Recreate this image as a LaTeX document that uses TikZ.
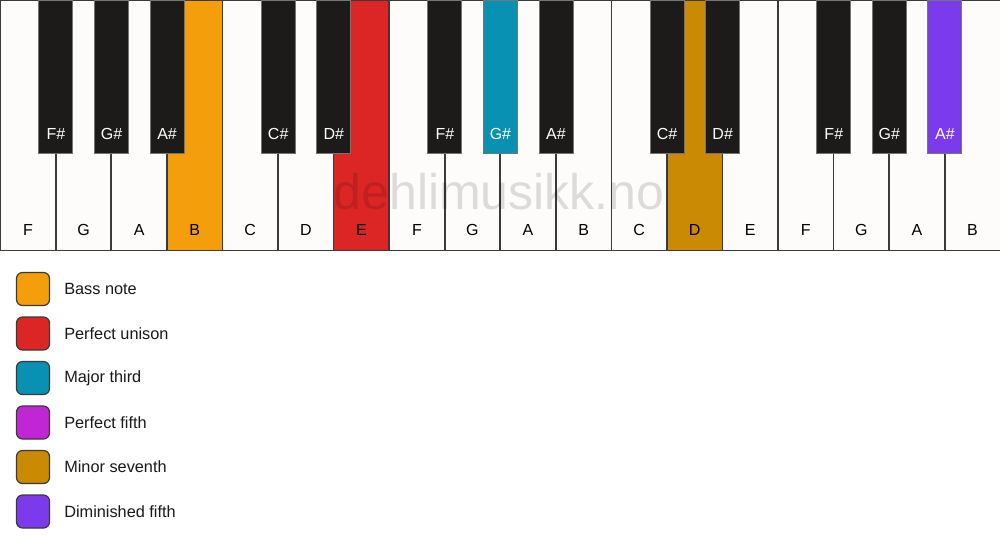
\documentclass[tikz,border=0pt]{standalone}
\usepackage{fontspec}
\setmainfont{Liberation Sans}
\usetikzlibrary{positioning}

\definecolor{ivory}{HTML}{FDFCFA}
\definecolor{keyblack}{HTML}{1C1B1A}
\definecolor{keyline}{HTML}{3A3A3A}
\definecolor{bassnote}{HTML}{F59E0B}
\definecolor{unison}{HTML}{DC2626}
\definecolor{majthird}{HTML}{0891B2}
\definecolor{perffifth}{HTML}{C026D3}
\definecolor{minseventh}{HTML}{CA8A04}
\definecolor{dimfifth}{HTML}{7C3AED}

\tikzset{
  whitekey/.style={anchor=north west, inner sep=0pt,
    minimum width=55.56pt, minimum height=250pt},
  keyedge/.style={draw=keyline, line width=1.3pt},
  blackkey/.style={draw=keyline!70, line width=1pt, anchor=north, inner sep=0pt,
    minimum width=34pt, minimum height=153pt},
  keylabel/.style={font=\fontsize{16pt}{16pt}\selectfont, inner sep=0pt},
  legendbox/.style={draw=keyline, line width=1.2pt, rounded corners=6pt,
    minimum width=33pt, minimum height=33pt, inner sep=0pt},
  legendtext/.style={font=\fontsize{16.3pt}{16.3pt}\selectfont, anchor=west, inner sep=0pt, text=black!90}
}

\begin{document}
\begin{tikzpicture}[x=1pt, y=-1pt]
\useasboundingbox[fill=white] (0,0) rectangle (1000,550);
% white keys
\foreach \i/\n/\c in {1/F/ivory, 2/G/ivory, 3/A/ivory, 4/B/bassnote, 5/C/ivory, 6/D/ivory,
                     7/E/unison, 8/F/ivory, 9/G/ivory, 10/A/ivory, 11/B/ivory, 12/C/ivory,
                     13/D/minseventh, 14/E/ivory, 15/F/ivory, 16/G/ivory, 17/A/ivory, 18/B/ivory} {
  \node[whitekey, fill=\c] (w\i) at ({(\i-1)*55.56},0) {};
  \node[keylabel] (wl\i) at ([yshift=20pt]w\i.south) {\n};
}
\foreach \i in {1,...,18} \draw[keyedge] (w\i.north west) rectangle (w\i.south east);
% black keys, sitting on the border after white key \b
\foreach \b/\n/\c in {1/F/keyblack, 2/G/keyblack, 3/A/keyblack, 5/C/keyblack, 6/D/keyblack,
                     8/F/keyblack, 9/G/majthird, 10/A/keyblack, 12/C/keyblack, 13/D/keyblack,
                     15/F/keyblack, 16/G/keyblack, 17/A/dimfifth} {
  \node[blackkey, fill=\c] (b\b) at (w\b.north east) {};
  \node[keylabel, text=white] (bl\b) at ([yshift=20pt]b\b.south) {\n\#};
}
% watermark
\node[font=\fontsize{50pt}{50pt}\selectfont, text=black, opacity=0.13, inner sep=0pt] (mark) at (499,192) {dehlimusikk.no};

% legend
\node[legendbox, fill=bassnote] (leg1) at (33,289) {};
\node[legendbox, fill=unison, below=10.3pt of leg1] (leg2) {};
\node[legendbox, fill=majthird, below=10.3pt of leg2] (leg3) {};
\node[legendbox, fill=perffifth, below=10.3pt of leg3] (leg4) {};
\node[legendbox, fill=minseventh, below=10.3pt of leg4] (leg5) {};
\node[legendbox, fill=dimfifth, below=10.3pt of leg5] (leg6) {};
\node[legendtext, right=14pt of leg1] (txt1) {Bass note};
\node[legendtext, right=14pt of leg2] (txt2) {Perfect unison};
\node[legendtext, right=14pt of leg3] (txt3) {Major third};
\node[legendtext, right=14pt of leg4] (txt4) {Perfect fifth};
\node[legendtext, right=14pt of leg5] (txt5) {Minor seventh};
\node[legendtext, right=14pt of leg6] (txt6) {Diminished fifth};
\end{tikzpicture}
\end{document}
